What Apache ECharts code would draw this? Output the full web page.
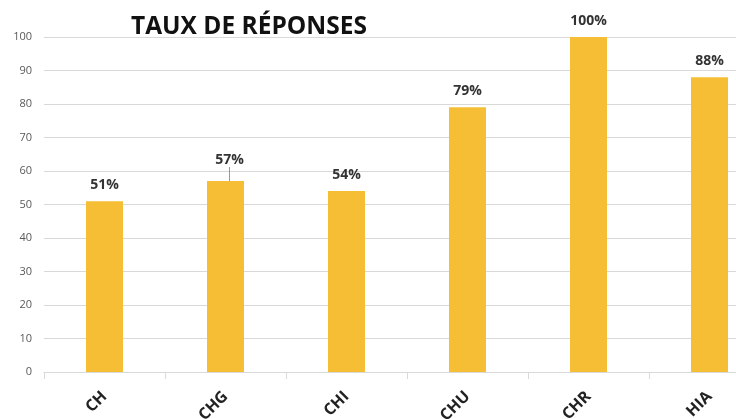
<!DOCTYPE html>
<html lang="fr">
<head>
    <meta charset="UTF-8">
    <style>
    html,
    body {
        height: 100%;
        margin: 0;
        overflow: hidden;
        background: #fff;
    }
    </style>
</head>
<body>
<div id="chart" style="width:770px;height:419px;"></div>
<script src="https://cdn.jsdelivr.net/npm/echarts@6/dist/echarts.min.js"></script>
<script>
    // valeurs
    var etablissements = ['CH', 'CHG', 'CHI', 'CHU', 'CHR', 'HIA'];
    var taux = [51, 57, 54, 79, 100, 88];
    var graduations = [0, 10, 20, 30, 40, 50, 60, 70, 80, 90, 100];

    var barres = taux.map(function (v, i) {
        // seule l'étiquette de CHG est décalée avec un trait de rappel
        return i === 1 ? { value: v, labelLine: { show: true } } : { value: v };
    });

    var myChart = echarts.init(document.getElementById('chart'));
    myChart.setOption({
        animation: false,
        title: {
            text: 'TAUX DE RÉPONSES',
            left: 126,
            top: 10,
            textStyle: {
                fontFamily: 'Open Sans',
                fontSize: 24.5,
                fontWeight: 'bold',
                color: '#111'
            }
        },
        grid: {
            left: 44,
            right: 0,
            top: 37,
            bottom: 47,
            outerBoundsMode: 'none'
        },
        xAxis: {
            type: 'category',
            data: etablissements,
            axisLine: { lineStyle: { color: '#d9d9d9' } },
            axisTick: { show: true, length: 7, lineStyle: { color: '#d9d9d9' } },
            axisLabel: {
                rotate: 45,
                margin: 22,
                fontFamily: 'Open Sans',
                fontWeight: 'bold',
                fontSize: 16,
                color: '#222'
            }
        },
        yAxis: {
            type: 'value',
            min: graduations[0],
            max: graduations[graduations.length - 1],
            interval: 10,
            axisLine: { show: false },
            axisTick: { show: false },
            axisLabel: {
                margin: 12,
                fontFamily: 'Open Sans',
                fontSize: 11,
                color: '#595959'
            },
            splitLine: { lineStyle: { color: '#d9d9d9' } }
        },
        series: [{
            type: 'bar',
            data: barres,
            barWidth: 37,
            itemStyle: { color: '#F6BE35' },
            label: {
                show: true,
                position: 'top',
                distance: 9,
                formatter: '{c}%',
                fontFamily: 'Open Sans',
                fontWeight: 'bold',
                fontSize: 14,
                color: '#333'
            },
            labelLine: {
                show: false,
                lineStyle: { color: '#999', width: 1 }
            },
            labelLayout: function (params) {
                return params.dataIndex === 1 ? { dx: 4, dy: -5 } : {};
            }
        }]
    });
</script>
</body>
</html>
